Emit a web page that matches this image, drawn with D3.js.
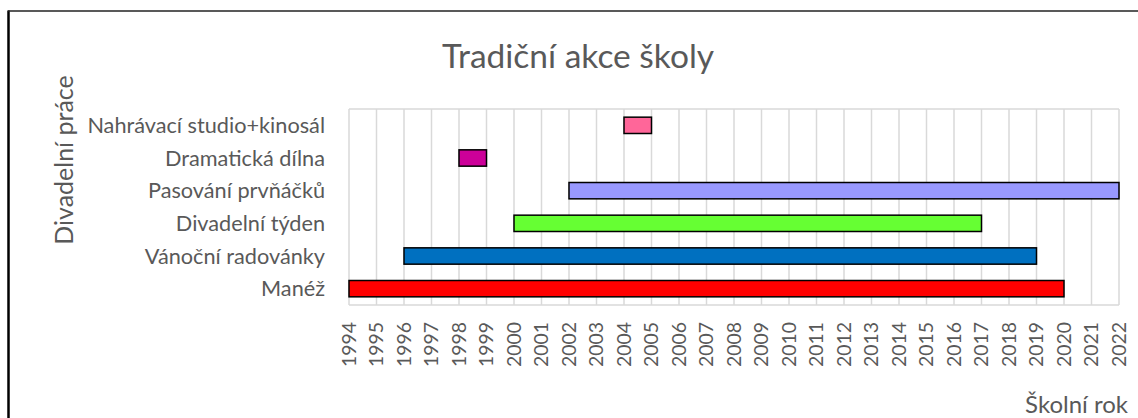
<!DOCTYPE html>
<html>
<head>
<meta charset="utf-8">
<script src="https://cdn.jsdelivr.net/npm/d3@7"></script>
<style>
  body { margin: 0; background: #fff; }
  text { font-family: Lato, "Open Sans", sans-serif; fill: #595959; }
</style>
</head>
<body>
<svg id="chart" width="1138" height="418"></svg>
<script>
// categories top to bottom, with start and end school year
const categories = ['Nahrávací studio+kinosál', 'Dramatická dílna', 'Pasování prvňáčků', 'Divadelní týden', 'Vánoční radovánky', 'Manéž'];
const startYears = [2004, 1998, 2002, 2000, 1996, 1994];
const endYears = [2005, 1999, 2022, 2017, 2019, 2020];
const barColors = ['#ff6699', '#cc0099', '#9999ff', '#66ff33', '#0070c0', '#ff0000'];
const yearTicks = d3.range(1994, 2023);

const svg = d3.select('#chart'),
  margin = { top: 109, right: 19, bottom: 113, left: 349 },
  width = +svg.attr('width'),
  height = +svg.attr('height');

const rows = categories.map((c, i) => ({ name: c, start: startYears[i], end: endYears[i], color: barColors[i] }));

const x = d3
  .scaleLinear()
  .domain([1994, 2022])
  .range([margin.left, width - margin.right]);

const y = d3
  .scaleBand()
  .domain(categories)
  .range([margin.top, height - margin.bottom])
  .paddingInner(0.5)
  .paddingOuter(0.25);

// outer frame (only left and top edges are visible)
svg.append('line').attr('x1', 8.5).attr('x2', 8.5).attr('y1', 10.5).attr('y2', height)
  .attr('stroke', '#000').attr('stroke-width', 2.5);
svg.append('line').attr('x1', 8).attr('x2', width).attr('y1', 11).attr('y2', 11)
  .attr('stroke', '#222').attr('stroke-width', 1.5);

// grid
const grid = svg.append('g').attr('stroke', '#d9d9d9').attr('stroke-width', 1.5);
grid.selectAll('line.v')
  .data(yearTicks)
  .enter()
  .append('line')
  .attr('x1', d => x(d)).attr('x2', d => x(d))
  .attr('y1', margin.top).attr('y2', height - margin.bottom);
grid.append('line')
  .attr('x1', margin.left).attr('x2', width - margin.right)
  .attr('y1', margin.top).attr('y2', margin.top);
grid.append('line')
  .attr('x1', margin.left).attr('x2', width - margin.right)
  .attr('y1', height - margin.bottom).attr('y2', height - margin.bottom);

// bars
svg.append('g')
  .selectAll('rect')
  .data(rows)
  .enter()
  .append('rect')
  .attr('x', d => x(d.start))
  .attr('y', d => y(d.name))
  .attr('width', d => x(d.end) - x(d.start))
  .attr('height', y.bandwidth())
  .attr('fill', d => d.color)
  .attr('stroke', '#000')
  .attr('stroke-width', 1.5);

// category labels
svg.append('g')
  .selectAll('text')
  .data(categories)
  .enter()
  .append('text')
  .attr('x', margin.left - 24)
  .attr('y', d => y(d) + y.bandwidth() / 2)
  .attr('dy', '0.35em')
  .attr('text-anchor', 'end')
  .attr('font-size', 21.7)
  .text(d => d);

// year labels
svg.append('g')
  .selectAll('text')
  .data(yearTicks)
  .enter()
  .append('text')
  .attr('transform', d => `translate(${x(d)},${height - margin.bottom + 17}) rotate(-90)`)
  .attr('dy', '0.35em')
  .attr('text-anchor', 'end')
  .attr('font-size', 19.4)
  .text(d => d);

// titles
svg.append('text')
  .attr('x', 578)
  .attr('y', 68)
  .attr('text-anchor', 'middle')
  .attr('font-size', 33.5)
  .text('Tradiční akce školy');

svg.append('text')
  .attr('transform', 'translate(73,160) rotate(-90)')
  .attr('text-anchor', 'middle')
  .attr('font-size', 25)
  .text('Divadelní práce');

svg.append('text')
  .attr('x', 1128)
  .attr('y', 413)
  .attr('text-anchor', 'end')
  .attr('font-size', 24)
  .text('Školní rok');
</script>
</body>
</html>
